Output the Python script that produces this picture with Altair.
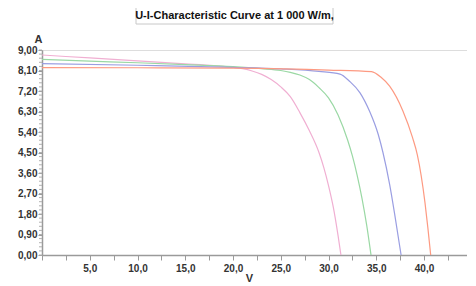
import altair as alt
import pandas as pd

# Curve data (voltage V, current A)
pink_v = [0, 5, 10, 15, 18, 20, 21, 22, 23, 24, 25, 26, 27, 28, 29, 29.5, 30, 30.5, 31, 31.3]
pink_i = [8.78, 8.65, 8.52, 8.39, 8.31, 8.24, 8.18, 8.08, 7.93, 7.70, 7.38, 6.95, 6.25, 5.45, 4.50, 3.85, 3.05, 2.10, 0.85, 0.0]

green_v = [0, 5, 10, 15, 20, 23, 25, 26, 27, 28, 29, 30, 31, 32, 32.5, 33, 33.5, 34, 34.45]
green_i = [8.59, 8.51, 8.44, 8.36, 8.27, 8.18, 8.10, 8.02, 7.90, 7.70, 7.35, 6.90, 6.15, 5.05, 4.35, 3.50, 2.50, 1.30, 0.0]

blue_v = [0, 10, 20, 25, 29, 31.2, 32.2, 33.3, 34.3, 35.2, 35.7, 36.4, 37.0, 37.6]
blue_i = [8.40, 8.33, 8.24, 8.17, 8.06, 7.94, 7.63, 7.12, 6.31, 5.30, 4.50, 3.10, 1.60, 0.0]

red_v = [0, 10, 20, 30, 34.5, 35.5, 36.4, 37.8, 38.8, 39.3, 40.1, 40.4, 40.7]
red_i = [8.23, 8.22, 8.20, 8.12, 8.05, 7.80, 7.41, 6.31, 5.15, 4.40, 2.30, 1.20, 0.0]

series_names = ["pink", "green", "blue", "red"]
series_colors = ["#f0afd2", "#9ad8a4", "#9a9ee2", "#fd9a82"]

x_ticks = [0, 2.5, 5, 7.5, 10, 12.5, 15, 17.5, 20, 22.5, 25, 27.5, 30, 32.5, 35, 37.5, 40, 42.5]
y_ticks = [0, 0.9, 1.8, 2.7, 3.6, 4.5, 5.4, 6.3, 7.2, 8.1, 9.0]
y_minor = [round(k * 0.18, 2) for k in range(51)]

title_text = "U-I-Characteristic Curve at 1 000 W/m,"

rows = []
for name, vs, cs in [("pink", pink_v, pink_i), ("green", green_v, green_i),
                     ("blue", blue_v, blue_i), ("red", red_v, red_i)]:
    for k, (v, c) in enumerate(zip(vs, cs)):
        rows.append({"series": name, "V": v, "I": c, "order": k})
df = pd.DataFrame(rows)

W, H = 425, 205

xscale = alt.Scale(domain=[0, 44.5], nice=False, zero=False)
yscale = alt.Scale(domain=[0, 9], nice=False, zero=False)

minor_df = pd.DataFrame({"y": y_minor})
minor = alt.Chart(minor_df).mark_rule(color="#b0b0b0", strokeWidth=1).encode(
    y=alt.Y("y:Q", scale=yscale, axis=None),
    x=alt.value(-3), x2=alt.value(0),
)

lines = alt.Chart(df).mark_line(strokeWidth=1.2, clip=True, interpolate="monotone").encode(
    x=alt.X("V:Q", scale=xscale, axis=alt.Axis(
        values=x_ticks, labelOverlap=False,
        labelExpr="(datum.value % 5 == 0 && datum.value > 0) ? replace(format(datum.value, '.1f'), '.', ',') : ''",
        title="V", titleX=207, titleY=17, titleBaseline="top", titleFontSize=11, titleFontWeight="bold",
        titleColor="#333333", titleFont="Liberation Sans",
        labelFont="Liberation Sans", labelFontSize=10, labelFontWeight="bold", labelColor="#333333",
        domainColor="#9a9a9a", domainWidth=1.5, tickColor="#9a9a9a", tickSize=5, labelPadding=3,
        grid=False)),
    y=alt.Y("I:Q", scale=yscale, axis=alt.Axis(
        values=y_ticks, labelOverlap=False,
        labelExpr="replace(format(datum.value, '.2f'), '.', ',')",
        title="A", titleAngle=0, titleX=-4, titleY=-6, titleAlign="center", titleBaseline="bottom",
        titleFontSize=11, titleFontWeight="bold", titleColor="#333333", titleFont="Liberation Sans",
        labelFont="Liberation Sans", labelFontSize=10, labelFontWeight="bold", labelColor="#333333",
        domainColor="#9a9a9a", domainWidth=1.5, tickColor="#9a9a9a", tickSize=4, labelPadding=1,
        grid=False)),
    color=alt.Color("series:N", scale=alt.Scale(domain=series_names, range=series_colors), legend=None),
    detail="series:N",
    order="order:Q",
)

box = alt.Chart(alt.Data(values=[{"t": title_text}])).mark_rect(
    fill="white", stroke="#c8c8c8", strokeWidth=1).encode(
    x=alt.value(94), x2=alt.value(291), y=alt.value(-43), y2=alt.value(-26))

title = alt.Chart(alt.Data(values=[{"t": title_text}])).mark_text(
    font="Liberation Sans", fontSize=11, fontWeight="bold", color="#111111",
    align="center", baseline="middle").encode(
    x=alt.value(192.5), y=alt.value(-34.5), text="t:N")

chart = alt.layer(lines, minor, box, title).resolve_axis(y="independent").properties(
    width=W, height=H,
    autosize=alt.AutoSizeParams(type="none"),
    padding={"left": 34, "top": 42, "right": 0, "bottom": 30},
).configure_view(stroke=None).configure(background="white")

chart.save("out.html", embed_options={"renderer": "svg", "actions": False})
